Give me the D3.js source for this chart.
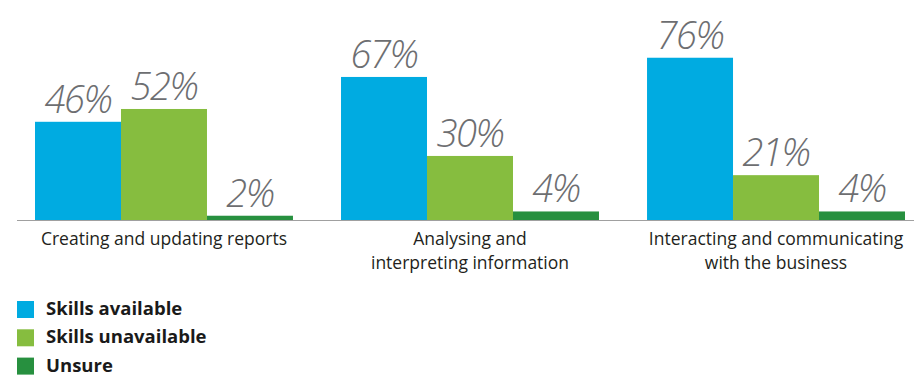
<!DOCTYPE html>
<html>
<head>
<meta charset="utf-8">
<script src="https://cdn.jsdelivr.net/npm/d3@7"></script>
<style>
  html, body { margin: 0; padding: 0; background: #fff; }
  svg { display: block; }
</style>
</head>
<body>
<svg id="chart" width="914" height="376"></svg>
<script>
// Survey categories (multi-line labels split by "\n")
const categories = [
  "Creating and updating reports",
  "Analysing and\ninterpreting information",
  "Interacting and communicating\nwith the business"
];
const seriesNames = ["Skills available", "Skills unavailable", "Unsure"];
const skillsAvailable   = [46, 67, 76];
const skillsUnavailable = [52, 30, 21];
const unsure            = [2, 4, 4];
const seriesColors = ["#00abe1", "#86bd3f", "#27903f"];

const series = [skillsAvailable, skillsUnavailable, unsure];

const svg = d3.select("#chart");
const baseline = 220;

const x = d3.scaleBand()
  .domain(categories)
  .range([35, 905])
  .paddingInner(0.157)
  .paddingOuter(0);

const xInner = d3.scaleBand()
  .domain(seriesNames)
  .range([0, x.bandwidth()])
  .padding(0);

const y = d3.scaleLinear()
  .domain([0, 100])
  .range([baseline, baseline - 213.5]);

// Bars with value labels above them
const groups = svg.selectAll("g.cat")
  .data(categories)
  .join("g")
  .attr("class", "cat")
  .attr("transform", d => `translate(${x(d)},0)`);

groups.each(function(cat, ci) {
  const g = d3.select(this);
  seriesNames.forEach((name, si) => {
    const v = series[si][ci];
    g.append("rect")
      .attr("x", xInner(name))
      .attr("y", y(v))
      .attr("width", xInner.bandwidth())
      .attr("height", baseline - y(v))
      .attr("fill", seriesColors[si]);
    g.append("text")
      .attr("x", xInner(name) + xInner.bandwidth() / 2)
      .attr("y", y(v) - 9)
      .attr("text-anchor", "middle")
      .attr("font-family", "'Open Sans', sans-serif")
      .attr("font-style", "italic")
      .attr("font-weight", 300)
      .attr("font-size", 38)
      .attr("letter-spacing", -1.5)
      .attr("fill", "#6d6e71")
      .text(v + "%");
  });
});

// Baseline
svg.append("line")
  .attr("x1", 17).attr("x2", 914)
  .attr("y1", baseline + 0.5).attr("y2", baseline + 0.5)
  .attr("stroke", "#a0a0a0")
  .attr("stroke-width", 1.2);

// Category labels
categories.forEach(cat => {
  const lines = cat.split("\n");
  const cx = x(cat) + x.bandwidth() / 2;
  const t = svg.append("text")
    .attr("x", cx)
    .attr("y", 245)
    .attr("text-anchor", "middle")
    .attr("font-family", "'Open Sans', sans-serif")
    .attr("font-size", 17.5)
    .attr("fill", "#231f20");
  lines.forEach((ln, i) => {
    t.append("tspan")
      .attr("x", cx)
      .attr("dy", i === 0 ? 0 : 24)
      .text(ln);
  });
});

// Legend
const legend = svg.append("g").attr("transform", "translate(17,301)");
seriesNames.forEach((name, i) => {
  const row = legend.append("g").attr("transform", `translate(0,${i * 28.3})`);
  row.append("rect")
    .attr("width", 17).attr("height", 17)
    .attr("fill", seriesColors[i]);
  row.append("text")
    .attr("x", 29)
    .attr("y", 14)
    .attr("font-family", "'Open Sans', sans-serif")
    .attr("font-weight", 700)
    .attr("font-size", 18.5)
    .attr("fill", "#1a1a1a")
    .text(name);
});
</script>
</body>
</html>
